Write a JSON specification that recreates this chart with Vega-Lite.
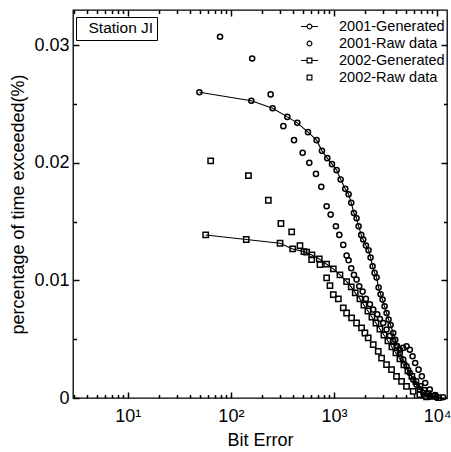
{
  "$schema": "https://vega.github.io/schema/vega-lite/v6.json",
  "autosize": "none",
  "width": 374,
  "height": 388,
  "padding": {"left": 73, "top": 10, "right": 4, "bottom": 54},
  "background": "white",
  "config": {
    "view": {"stroke": "black", "strokeWidth": 1.3},
    "axis": {
      "grid": false, "domain": false, "ticks": true, "tickColor": "black", "labelColor": "black", "titleColor": "black",
      "labelFont": "Liberation Sans", "titleFont": "Liberation Sans", "labelFontSize": 18, "titleFontSize": 18,
      "titleFontWeight": "normal", "labelOverlap": false, "labelFlush": false, "tickWidth": 1.5, "zindex": 1
    },
    "legend": {"labelFont": "Liberation Sans", "labelColor": "black"}
  },
  "datasets": {
    "pts": [
      {"year": 2001, "kind": "Generated", "s": "2001-Generated", "x": 49.5, "y": 0.02601},
      {"year": 2001, "kind": "Generated", "s": "2001-Generated", "x": 158, "y": 0.02528},
      {"year": 2001, "kind": "Generated", "s": "2001-Generated", "x": 254, "y": 0.02465},
      {"year": 2001, "kind": "Generated", "s": "2001-Generated", "x": 353, "y": 0.02391},
      {"year": 2001, "kind": "Generated", "s": "2001-Generated", "x": 441, "y": 0.0234},
      {"year": 2001, "kind": "Generated", "s": "2001-Generated", "x": 560, "y": 0.02261},
      {"year": 2001, "kind": "Generated", "s": "2001-Generated", "x": 679, "y": 0.02193},
      {"year": 2001, "kind": "Generated", "s": "2001-Generated", "x": 765, "y": 0.02102},
      {"year": 2001, "kind": "Generated", "s": "2001-Generated", "x": 862, "y": 0.0204},
      {"year": 2001, "kind": "Generated", "s": "2001-Generated", "x": 957, "y": 0.01989},
      {"year": 2001, "kind": "Generated", "s": "2001-Generated", "x": 1061, "y": 0.01938},
      {"year": 2001, "kind": "Generated", "s": "2001-Generated", "x": 1161, "y": 0.01858},
      {"year": 2001, "kind": "Generated", "s": "2001-Generated", "x": 1288, "y": 0.01779},
      {"year": 2001, "kind": "Generated", "s": "2001-Generated", "x": 1388, "y": 0.01733},
      {"year": 2001, "kind": "Generated", "s": "2001-Generated", "x": 1472, "y": 0.0166},
      {"year": 2001, "kind": "Generated", "s": "2001-Generated", "x": 1562, "y": 0.01574},
      {"year": 2001, "kind": "Generated", "s": "2001-Generated", "x": 1658, "y": 0.01529},
      {"year": 2001, "kind": "Generated", "s": "2001-Generated", "x": 1734, "y": 0.01461},
      {"year": 2001, "kind": "Generated", "s": "2001-Generated", "x": 1840, "y": 0.01387},
      {"year": 2001, "kind": "Generated", "s": "2001-Generated", "x": 1924, "y": 0.01348},
      {"year": 2001, "kind": "Generated", "s": "2001-Generated", "x": 2042, "y": 0.01296},
      {"year": 2001, "kind": "Generated", "s": "2001-Generated", "x": 2167, "y": 0.01257},
      {"year": 2001, "kind": "Generated", "s": "2001-Generated", "x": 2266, "y": 0.01194},
      {"year": 2001, "kind": "Generated", "s": "2001-Generated", "x": 2371, "y": 0.01121},
      {"year": 2001, "kind": "Generated", "s": "2001-Generated", "x": 2479, "y": 0.01064},
      {"year": 2001, "kind": "Generated", "s": "2001-Generated", "x": 2593, "y": 0.01024},
      {"year": 2001, "kind": "Generated", "s": "2001-Generated", "x": 2711, "y": 0.00939},
      {"year": 2001, "kind": "Generated", "s": "2001-Generated", "x": 2835, "y": 0.00882},
      {"year": 2001, "kind": "Generated", "s": "2001-Generated", "x": 2965, "y": 0.00837},
      {"year": 2001, "kind": "Generated", "s": "2001-Generated", "x": 3100, "y": 0.0078},
      {"year": 2001, "kind": "Generated", "s": "2001-Generated", "x": 3242, "y": 0.00723},
      {"year": 2001, "kind": "Generated", "s": "2001-Generated", "x": 3390, "y": 0.00667},
      {"year": 2001, "kind": "Generated", "s": "2001-Generated", "x": 3545, "y": 0.00621},
      {"year": 2001, "kind": "Generated", "s": "2001-Generated", "x": 3760, "y": 0.00553},
      {"year": 2001, "kind": "Generated", "s": "2001-Generated", "x": 3931, "y": 0.00496},
      {"year": 2001, "kind": "Generated", "s": "2001-Generated", "x": 4111, "y": 0.0044},
      {"year": 2001, "kind": "Generated", "s": "2001-Generated", "x": 4360, "y": 0.00383},
      {"year": 2001, "kind": "Generated", "s": "2001-Generated", "x": 4699, "y": 0.00326},
      {"year": 2001, "kind": "Generated", "s": "2001-Generated", "x": 5064, "y": 0.0027},
      {"year": 2001, "kind": "Generated", "s": "2001-Generated", "x": 5458, "y": 0.00213},
      {"year": 2001, "kind": "Generated", "s": "2001-Generated", "x": 5882, "y": 0.00156},
      {"year": 2001, "kind": "Generated", "s": "2001-Generated", "x": 6339, "y": 0.00113},
      {"year": 2001, "kind": "Generated", "s": "2001-Generated", "x": 6831, "y": 0.00071},
      {"year": 2001, "kind": "Generated", "s": "2001-Generated", "x": 7362, "y": 0.00043},
      {"year": 2001, "kind": "Generated", "s": "2001-Generated", "x": 8530, "y": 0.00014},
      {"year": 2001, "kind": "Generated", "s": "2001-Generated", "x": 9885, "y": 0.00006},

      {"year": 2001, "kind": "Raw", "s": "2001-Raw data", "x": 78.5, "y": 0.03072},
      {"year": 2001, "kind": "Raw", "s": "2001-Raw data", "x": 161, "y": 0.02888},
      {"year": 2001, "kind": "Raw", "s": "2001-Raw data", "x": 243, "y": 0.02582},
      {"year": 2001, "kind": "Raw", "s": "2001-Raw data", "x": 323, "y": 0.02312},
      {"year": 2001, "kind": "Raw", "s": "2001-Raw data", "x": 410, "y": 0.02193},
      {"year": 2001, "kind": "Raw", "s": "2001-Raw data", "x": 497, "y": 0.02085},
      {"year": 2001, "kind": "Raw", "s": "2001-Raw data", "x": 577, "y": 0.02},
      {"year": 2001, "kind": "Raw", "s": "2001-Raw data", "x": 669, "y": 0.01906},
      {"year": 2001, "kind": "Raw", "s": "2001-Raw data", "x": 754, "y": 0.01796},
      {"year": 2001, "kind": "Raw", "s": "2001-Raw data", "x": 849, "y": 0.01631},
      {"year": 2001, "kind": "Raw", "s": "2001-Raw data", "x": 929, "y": 0.0156},
      {"year": 2001, "kind": "Raw", "s": "2001-Raw data", "x": 1045, "y": 0.01461},
      {"year": 2001, "kind": "Raw", "s": "2001-Raw data", "x": 1127, "y": 0.01387},
      {"year": 2001, "kind": "Raw", "s": "2001-Raw data", "x": 1232, "y": 0.01302},
      {"year": 2001, "kind": "Raw", "s": "2001-Raw data", "x": 1327, "y": 0.01211},
      {"year": 2001, "kind": "Raw", "s": "2001-Raw data", "x": 1388, "y": 0.01172},
      {"year": 2001, "kind": "Raw", "s": "2001-Raw data", "x": 1472, "y": 0.01104},
      {"year": 2001, "kind": "Raw", "s": "2001-Raw data", "x": 1562, "y": 0.01047},
      {"year": 2001, "kind": "Raw", "s": "2001-Raw data", "x": 1658, "y": 0.01007},
      {"year": 2001, "kind": "Raw", "s": "2001-Raw data", "x": 1760, "y": 0.0095},
      {"year": 2001, "kind": "Raw", "s": "2001-Raw data", "x": 1897, "y": 0.00905},
      {"year": 2001, "kind": "Raw", "s": "2001-Raw data", "x": 2042, "y": 0.00843},
      {"year": 2001, "kind": "Raw", "s": "2001-Raw data", "x": 2233, "y": 0.00797},
      {"year": 2001, "kind": "Raw", "s": "2001-Raw data", "x": 2406, "y": 0.00752},
      {"year": 2001, "kind": "Raw", "s": "2001-Raw data", "x": 2632, "y": 0.00712},
      {"year": 2001, "kind": "Raw", "s": "2001-Raw data", "x": 2792, "y": 0.00672},
      {"year": 2001, "kind": "Raw", "s": "2001-Raw data", "x": 3007, "y": 0.00638},
      {"year": 2001, "kind": "Raw", "s": "2001-Raw data", "x": 3239, "y": 0.00582},
      {"year": 2001, "kind": "Raw", "s": "2001-Raw data", "x": 3489, "y": 0.0053},
      {"year": 2001, "kind": "Raw", "s": "2001-Raw data", "x": 3758, "y": 0.00485},
      {"year": 2001, "kind": "Raw", "s": "2001-Raw data", "x": 4048, "y": 0.00445},
      {"year": 2001, "kind": "Raw", "s": "2001-Raw data", "x": 4361, "y": 0.00411},
      {"year": 2001, "kind": "Raw", "s": "2001-Raw data", "x": 4698, "y": 0.00426},
      {"year": 2001, "kind": "Raw", "s": "2001-Raw data", "x": 5061, "y": 0.0044},
      {"year": 2001, "kind": "Raw", "s": "2001-Raw data", "x": 5452, "y": 0.00411},
      {"year": 2001, "kind": "Raw", "s": "2001-Raw data", "x": 5790, "y": 0.00355},
      {"year": 2001, "kind": "Raw", "s": "2001-Raw data", "x": 6140, "y": 0.00298},
      {"year": 2001, "kind": "Raw", "s": "2001-Raw data", "x": 6620, "y": 0.00241},
      {"year": 2001, "kind": "Raw", "s": "2001-Raw data", "x": 7130, "y": 0.00184},
      {"year": 2001, "kind": "Raw", "s": "2001-Raw data", "x": 7680, "y": 0.00128},
      {"year": 2001, "kind": "Raw", "s": "2001-Raw data", "x": 8510, "y": 0.00071},
      {"year": 2001, "kind": "Raw", "s": "2001-Raw data", "x": 9590, "y": 0.00026},
      {"year": 2001, "kind": "Raw", "s": "2001-Raw data", "x": 11480, "y": 0.00006},

      {"year": 2002, "kind": "Generated", "s": "2002-Generated", "x": 57, "y": 0.01387},
      {"year": 2002, "kind": "Generated", "s": "2002-Generated", "x": 141, "y": 0.01348},
      {"year": 2002, "kind": "Generated", "s": "2002-Generated", "x": 300, "y": 0.01316},
      {"year": 2002, "kind": "Generated", "s": "2002-Generated", "x": 398, "y": 0.01268},
      {"year": 2002, "kind": "Generated", "s": "2002-Generated", "x": 512, "y": 0.01245},
      {"year": 2002, "kind": "Generated", "s": "2002-Generated", "x": 612, "y": 0.01217},
      {"year": 2002, "kind": "Generated", "s": "2002-Generated", "x": 721, "y": 0.01183},
      {"year": 2002, "kind": "Generated", "s": "2002-Generated", "x": 849, "y": 0.01138},
      {"year": 2002, "kind": "Generated", "s": "2002-Generated", "x": 986, "y": 0.01098},
      {"year": 2002, "kind": "Generated", "s": "2002-Generated", "x": 1144, "y": 0.01047},
      {"year": 2002, "kind": "Generated", "s": "2002-Generated", "x": 1327, "y": 0.0099},
      {"year": 2002, "kind": "Generated", "s": "2002-Generated", "x": 1472, "y": 0.00945},
      {"year": 2002, "kind": "Generated", "s": "2002-Generated", "x": 1610, "y": 0.00894},
      {"year": 2002, "kind": "Generated", "s": "2002-Generated", "x": 1787, "y": 0.00843},
      {"year": 2002, "kind": "Generated", "s": "2002-Generated", "x": 1954, "y": 0.00791},
      {"year": 2002, "kind": "Generated", "s": "2002-Generated", "x": 2137, "y": 0.0074},
      {"year": 2002, "kind": "Generated", "s": "2002-Generated", "x": 2336, "y": 0.00689},
      {"year": 2002, "kind": "Generated", "s": "2002-Generated", "x": 2555, "y": 0.00638},
      {"year": 2002, "kind": "Generated", "s": "2002-Generated", "x": 2793, "y": 0.00587},
      {"year": 2002, "kind": "Generated", "s": "2002-Generated", "x": 3054, "y": 0.00536},
      {"year": 2002, "kind": "Generated", "s": "2002-Generated", "x": 3339, "y": 0.00485},
      {"year": 2002, "kind": "Generated", "s": "2002-Generated", "x": 3650, "y": 0.00434},
      {"year": 2002, "kind": "Generated", "s": "2002-Generated", "x": 3991, "y": 0.00383},
      {"year": 2002, "kind": "Generated", "s": "2002-Generated", "x": 4363, "y": 0.00332},
      {"year": 2002, "kind": "Generated", "s": "2002-Generated", "x": 4771, "y": 0.00281},
      {"year": 2002, "kind": "Generated", "s": "2002-Generated", "x": 5216, "y": 0.0023},
      {"year": 2002, "kind": "Generated", "s": "2002-Generated", "x": 5703, "y": 0.00184},
      {"year": 2002, "kind": "Generated", "s": "2002-Generated", "x": 6236, "y": 0.00139},
      {"year": 2002, "kind": "Generated", "s": "2002-Generated", "x": 6818, "y": 0.00099},
      {"year": 2002, "kind": "Generated", "s": "2002-Generated", "x": 7454, "y": 0.00065},
      {"year": 2002, "kind": "Generated", "s": "2002-Generated", "x": 8150, "y": 0.00037},
      {"year": 2002, "kind": "Generated", "s": "2002-Generated", "x": 9180, "y": 0.00014},
      {"year": 2002, "kind": "Generated", "s": "2002-Generated", "x": 10340, "y": 0.00003},

      {"year": 2002, "kind": "Raw", "s": "2002-Raw data", "x": 63.7, "y": 0.02017},
      {"year": 2002, "kind": "Raw", "s": "2002-Raw data", "x": 148, "y": 0.01892},
      {"year": 2002, "kind": "Raw", "s": "2002-Raw data", "x": 231, "y": 0.01682},
      {"year": 2002, "kind": "Raw", "s": "2002-Raw data", "x": 306, "y": 0.01484},
      {"year": 2002, "kind": "Raw", "s": "2002-Raw data", "x": 389, "y": 0.01413},
      {"year": 2002, "kind": "Raw", "s": "2002-Raw data", "x": 468, "y": 0.01296},
      {"year": 2002, "kind": "Raw", "s": "2002-Raw data", "x": 543, "y": 0.0124},
      {"year": 2002, "kind": "Raw", "s": "2002-Raw data", "x": 608, "y": 0.01177},
      {"year": 2002, "kind": "Raw", "s": "2002-Raw data", "x": 732, "y": 0.01135},
      {"year": 2002, "kind": "Raw", "s": "2002-Raw data", "x": 849, "y": 0.01021},
      {"year": 2002, "kind": "Raw", "s": "2002-Raw data", "x": 915, "y": 0.00956},
      {"year": 2002, "kind": "Raw", "s": "2002-Raw data", "x": 986, "y": 0.00879},
      {"year": 2002, "kind": "Raw", "s": "2002-Raw data", "x": 1103, "y": 0.00843},
      {"year": 2002, "kind": "Raw", "s": "2002-Raw data", "x": 1232, "y": 0.00766},
      {"year": 2002, "kind": "Raw", "s": "2002-Raw data", "x": 1327, "y": 0.00723},
      {"year": 2002, "kind": "Raw", "s": "2002-Raw data", "x": 1483, "y": 0.00681},
      {"year": 2002, "kind": "Raw", "s": "2002-Raw data", "x": 1658, "y": 0.00638},
      {"year": 2002, "kind": "Raw", "s": "2002-Raw data", "x": 1853, "y": 0.00596},
      {"year": 2002, "kind": "Raw", "s": "2002-Raw data", "x": 1996, "y": 0.00553},
      {"year": 2002, "kind": "Raw", "s": "2002-Raw data", "x": 2150, "y": 0.00511},
      {"year": 2002, "kind": "Raw", "s": "2002-Raw data", "x": 2406, "y": 0.00454},
      {"year": 2002, "kind": "Raw", "s": "2002-Raw data", "x": 2690, "y": 0.00397},
      {"year": 2002, "kind": "Raw", "s": "2002-Raw data", "x": 2897, "y": 0.0034},
      {"year": 2002, "kind": "Raw", "s": "2002-Raw data", "x": 3239, "y": 0.00284},
      {"year": 2002, "kind": "Raw", "s": "2002-Raw data", "x": 3621, "y": 0.00241},
      {"year": 2002, "kind": "Raw", "s": "2002-Raw data", "x": 4048, "y": 0.00184},
      {"year": 2002, "kind": "Raw", "s": "2002-Raw data", "x": 4526, "y": 0.00142},
      {"year": 2002, "kind": "Raw", "s": "2002-Raw data", "x": 5061, "y": 0.00099},
      {"year": 2002, "kind": "Raw", "s": "2002-Raw data", "x": 5874, "y": 0.00057},
      {"year": 2002, "kind": "Raw", "s": "2002-Raw data", "x": 6818, "y": 0.00028},
      {"year": 2002, "kind": "Raw", "s": "2002-Raw data", "x": 7913, "y": 0.00009}
    ],
    "station": [{"station": "Station JI"}]
  },
  "layer": [
    {
      "data": {"name": "pts"},
      "transform": [{"filter": "datum.kind == 'Generated'"}],
      "mark": {"type": "line", "color": "black", "strokeWidth": 1.1},
      "encoding": {
        "x": {"field": "x", "type": "quantitative", "scale": {"type": "log", "domain": [2.94, 12500], "nice": false},
          "axis": {"orient": "top", "title": null, "labels": false, "values": [10, 100, 1000, 10000], "tickSize": 6, "offset": -6}
        },
        "y": {"field": "y", "type": "quantitative", "scale": {"domain": [0, 0.033], "nice": false, "zero": false},
          "axis": {"orient": "right", "title": null, "labels": false, "values": [0, 0.01, 0.02, 0.03], "tickSize": 6, "offset": -6}
        },
        "detail": {"field": "s"}
      }
    },
    {
      "data": {"name": "pts"},
      "transform": [{"filter": "datum.year == 2001"}],
      "mark": {"type": "point", "shape": "circle", "filled": false, "color": "black", "size": 26, "strokeWidth": 1.5, "opacity": 1},
      "encoding": {
        "x": {"field": "x", "type": "quantitative", "scale": {"type": "log", "domain": [2.94, 12500], "nice": false},
          "axis": {
            "title": "Bit Error", "titlePadding": 6,
            "values": [10, 100, 1000, 10000],
            "labelExpr": "datum.value == 10 ? '10¹' : datum.value == 100 ? '10²' : datum.value == 1000 ? '10³' : '10⁴'",
            "tickSize": 6, "offset": -6, "labelPadding": 9
          }
        },
        "y": {"field": "y", "type": "quantitative", "scale": {"domain": [0, 0.033], "nice": false, "zero": false},
          "axis": {
            "title": "percentage of time exceeded(%)", "titlePadding": 6,
            "values": [0, 0.01, 0.02, 0.03],
            "labelExpr": "datum.value == 0 ? '0' : format(datum.value, '.2f')",
            "tickSize": 6, "offset": -6, "labelPadding": 4
          }
        }
      }
    },
    {
      "data": {"name": "pts"},
      "transform": [{"filter": "datum.year == 2002"}],
      "mark": {"type": "point", "shape": "square", "filled": false, "color": "black", "size": 28, "strokeWidth": 1.5, "opacity": 1},
      "encoding": {
        "x": {"field": "x", "type": "quantitative", "scale": {"type": "log", "domain": [2.94, 12500], "nice": false},
          "axis": {"orient": "bottom", "title": null, "labels": false,
            "values": [3,4,5,6,7,8,9,20,30,40,50,60,70,80,90,200,300,400,500,600,700,800,900,2000,3000,4000,5000,6000,7000,8000,9000],
            "tickSize": 3.5, "offset": -3.5}
        },
        "y": {"field": "y", "type": "quantitative", "scale": {"domain": [0, 0.033], "nice": false, "zero": false},
          "axis": {"orient": "left", "title": null, "labels": false, "values": [0.005, 0.015, 0.025], "tickSize": 3.5, "offset": -3.5}
        }
      }
    },
    {
      "data": {"name": "pts"},
      "mark": {"type": "point", "filled": false, "color": "black", "opacity": 0},
      "encoding": {
        "x": {"field": "x", "type": "quantitative", "scale": {"type": "log", "domain": [2.94, 12500], "nice": false},
          "axis": {"orient": "top", "title": null, "labels": false,
            "values": [3,4,5,6,7,8,9,20,30,40,50,60,70,80,90,200,300,400,500,600,700,800,900,2000,3000,4000,5000,6000,7000,8000,9000],
            "tickSize": 3.5, "offset": -3.5}
        },
        "y": {"field": "y", "type": "quantitative", "scale": {"domain": [0, 0.033], "nice": false, "zero": false},
          "axis": {"orient": "right", "title": null, "labels": false, "values": [0.005, 0.015, 0.025], "tickSize": 3.5, "offset": -3.5}
        },
        "shape": {"field": "s", "type": "nominal",
          "scale": {
            "domain": ["2001-Generated", "2001-Raw data", "2002-Generated", "2002-Raw data"],
            "range": [
              "M-1,0L-0.28,0M0.28,0L1,0M-0.28,0A0.28,0.28,0,1,1,0.28,0A0.28,0.28,0,1,1,-0.28,0Z",
              "M-0.28,0A0.28,0.28,0,1,1,0.28,0A0.28,0.28,0,1,1,-0.28,0Z",
              "M-1,0L-0.28,0M0.28,0L1,0M-0.28,-0.28L0.28,-0.28L0.28,0.28L-0.28,0.28Z",
              "M-0.28,-0.28L0.28,-0.28L0.28,0.28L-0.28,0.28Z"
            ]
          },
          "legend": {
            "title": null, "orient": "none", "legendX": 227, "legendY": 7, "padding": 0,
            "symbolSize": 289, "symbolOpacity": 1, "symbolStrokeColor": "black", "symbolFillColor": "transparent", "symbolStrokeWidth": 1.2,
            "labelFontSize": 14.5, "labelOffset": 20, "rowPadding": 1, "labelLimit": 200
          }
        }
      }
    },
    {
      "data": {"name": "station"},
      "mark": {"type": "point", "opacity": 0},
      "encoding": {
        "fill": {"field": "station", "type": "nominal", "scale": {"range": ["white"]},
          "legend": {
            "title": null, "orient": "none", "legendX": 3, "legendY": 7, "padding": 3,
            "strokeColor": "black", "symbolSize": 1, "symbolOpacity": 0, "symbolStrokeWidth": 0,
            "labelFontSize": 15.5, "labelOffset": -6
          }
        }
      }
    }
  ],
  "resolve": {"axis": {"x": "independent", "y": "independent"}, "legend": {"shape": "independent", "fill": "independent"}}
}
